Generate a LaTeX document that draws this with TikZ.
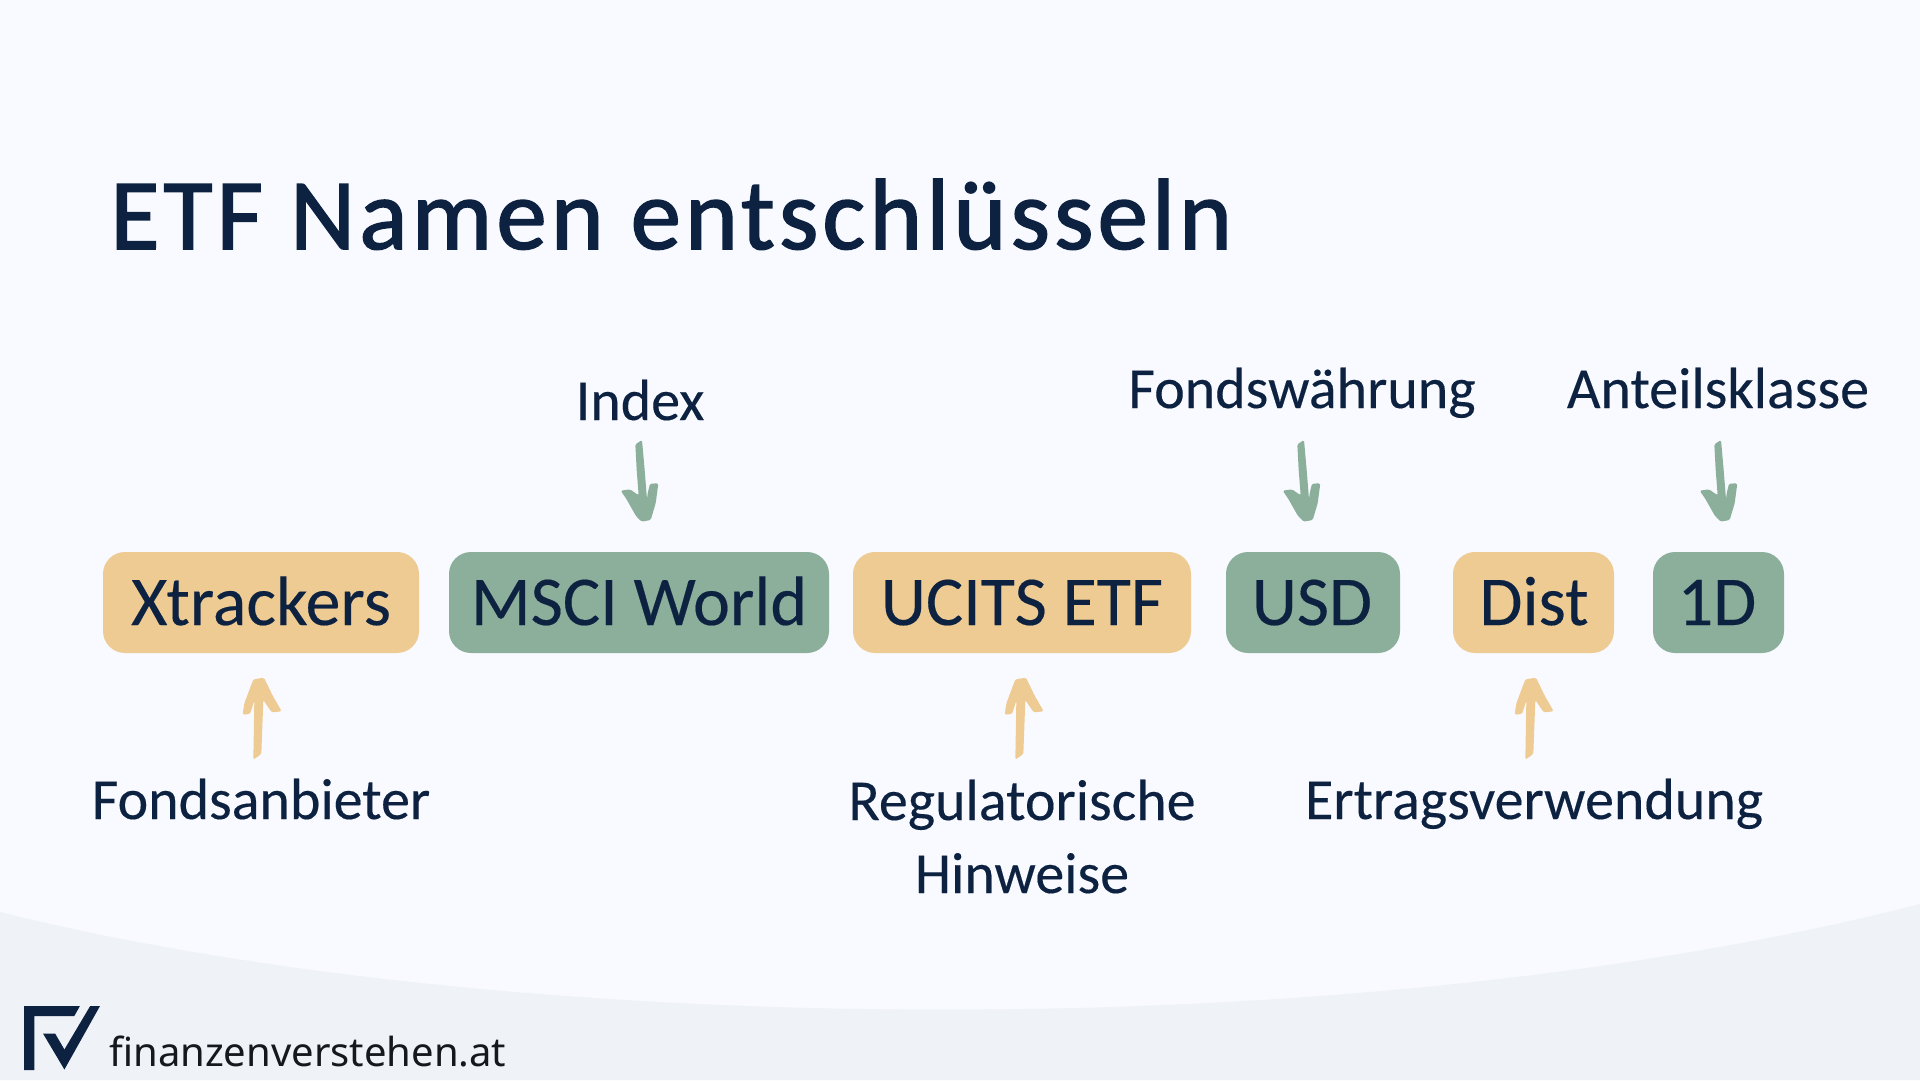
\documentclass[tikz,border=0pt]{standalone}
\usepackage{fontspec}
\setmainfont{Carlito}[FakeBold=0.25]
\newfontfamily\titlefont{Carlito}[FakeBold=1.5,LetterSpace=4]
\newfontfamily\footfont{Noto Sans}
\definecolor{bgtop}{HTML}{F8FAFF}
\definecolor{bgbot}{HTML}{EFF2F6}
\definecolor{ink}{HTML}{0D2240}
\definecolor{footink}{HTML}{15191E}
\definecolor{sage}{HTML}{8BAF9A}
\definecolor{sand}{HTML}{EECB93}
\tikzset{
  x=1pt,y=-1pt,
  chipbg/.style={rounded corners=22pt},
  chip/.style={inner sep=0pt,text=ink,font=\fontsize{70}{70}\selectfont},
  tag/.style={text=ink,font=\fontsize{58}{73}\selectfont,inner sep=0pt,anchor=base,align=center},
  pics/downarrow/.style={code={
    \fill[#1,rounded corners=1.5pt,xscale=1/3,yscale=1/3] (186,30)--(166,43)--(170,120)--(176,196)--(150,178)--(122,182)--(138,205)--(168,258)--(185,275)--(212,270)--(227,220)--(235,160)--(210,161)--(203,190)--(201,208)--(194,120)--cycle;}},
  pics/uparrow/.style={code={
    \fill[#1,rounded corners=1.5pt,xscale=1/3,yscale=1/3] (160,58)--(192,53)--(217,105)--(245,154)--(215,157)--(190,120)--(184,282)--(160,299)--(163,122)--(150,162)--(128,164)--(133,130)--cycle;}}
}
\begin{document}
\begin{tikzpicture}
\useasboundingbox (0,0) rectangle (1920,1080);
\fill[bgtop] (0,0) rectangle (1920,1080);
\fill[bgbot] (0,912) .. controls (500,1037) and (1350,1050) .. (1920,904) -- (1920,1080) -- (0,1080) -- cycle;
% title
\node[anchor=base west,inner sep=0pt,text=ink,font=\titlefont\fontsize{101}{101}\selectfont] (title) at (110,249) {ETF Namen entschlüsseln};
% chips
\fill[sand,chipbg] (103,552) rectangle (419,653);
\fill[sage,chipbg] (449,552) rectangle (829,653);
\fill[sand,chipbg] (853,552) rectangle (1191,653);
\fill[sage,chipbg] (1226,552) rectangle (1400,653);
\fill[sand,chipbg] (1453,552) rectangle (1614,653);
\fill[sage,chipbg] (1653,552) rectangle (1784,653);
\node[chip,anchor=base] (xtr) at (261,625) {Xtrackers};
\node[chip,anchor=base] (msci) at (639,625) {MSCI World};
\node[chip,anchor=base] (ucits) at (1022,625) {UCITS ETF};
\node[chip,anchor=base] (usd) at (1312,625) {USD};
\node[chip,anchor=base] (dist) at (1534,625) {Dist};
\node[chip,anchor=base] (oned) at (1717,625) {1D};
% labels
\node[tag] (lindex) at (640,420) {Index};
\node[tag] (lfw) at (1302,408) {Fondswährung};
\node[tag] (lak) at (1718,408) {Anteilsklasse};
\node[tag] (lfa) at (261,819) {Fondsanbieter};
\node[tag] (lreg) at (1022,893) {Regulatorische\\Hinweise};
\node[tag] (lev) at (1534,819) {Ertragsverwendung};
% arrows
\pic at (580,430) {downarrow=sage};
\pic at (1242,430) {downarrow=sage};
\pic at (1659,430) {downarrow=sage};
\pic at (200,660) {uparrow=sand};
\pic at (962,660) {uparrow=sand};
\pic at (1472,660) {uparrow=sand};
% logo
\fill[ink] (24.1,1006)--(79.9,1006)--(74.3,1016)--(34.4,1016)--(34.4,1070)--(24.1,1070)--cycle;
\fill[ink] (43,1033.5)--(55.1,1033.5)--(64.4,1049.5)--(90.2,1006)--(100,1006)--(64.4,1069.5)--cycle;
\node[anchor=base west,inner sep=0pt,text=footink,font=\footfont\fontsize{40}{40}\selectfont] (foot) at (109,1066.5) {finanzenverstehen.at};
\end{tikzpicture}
\end{document}
